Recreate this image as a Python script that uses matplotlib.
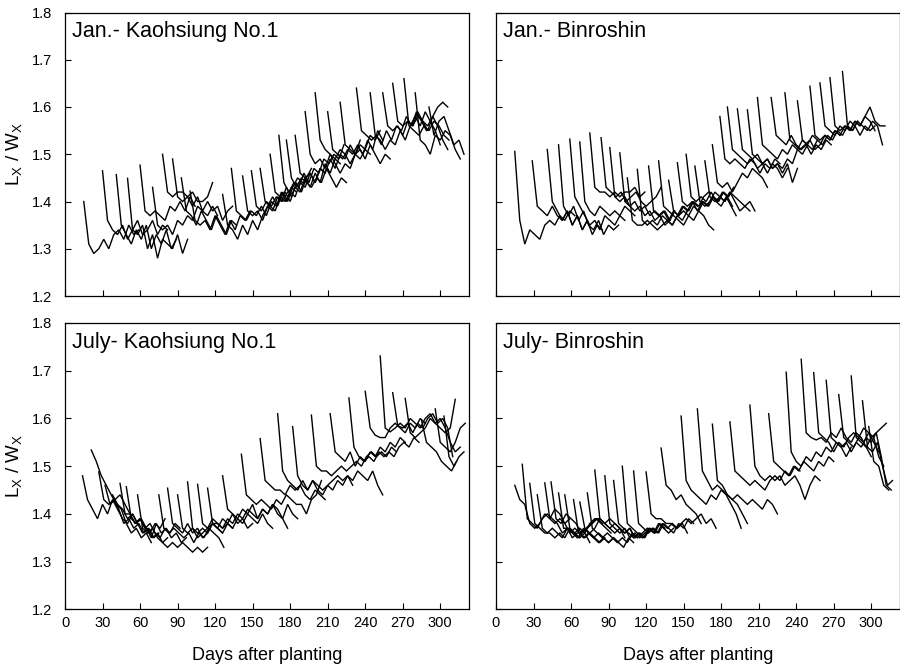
import matplotlib
matplotlib.use("Agg")
import matplotlib.pyplot as plt

plt.rcParams['font.family'] = ['Liberation Sans', 'DejaVu Sans']
plt.rcParams['mathtext.fontset'] = 'custom'
plt.rcParams['mathtext.rm'] = 'Liberation Sans'
plt.rcParams['mathtext.it'] = 'Liberation Sans'

# sampling interval (days) between successive readings of one leaf
STEP = 4

x_ticks = [0, 30, 60, 90, 120, 150, 180, 210, 240, 270, 300]
y_ticks = [1.2, 1.3, 1.4, 1.5, 1.6, 1.7, 1.8]

# ---------------- Jan. - Kaohsiung No.1 ----------------
jan_kao_start = [15, 30, 41, 50, 60, 70, 78, 86, 93, 100, 126, 133, 142, 149, 156,
                 164, 171, 177, 184, 192, 200, 210, 220, 233, 244, 254, 262, 271, 280, 291]
jan_kao_vals = [
    [1.40, 1.31, 1.29, 1.30, 1.32, 1.30, 1.33, 1.34, 1.32, 1.35, 1.33, 1.34],
    [1.465, 1.36, 1.34, 1.33, 1.35, 1.32, 1.34, 1.36, 1.33, 1.34, 1.36, 1.33, 1.35, 1.34],
    [1.457, 1.35, 1.33, 1.31, 1.34, 1.32, 1.35, 1.30, 1.33, 1.31, 1.34, 1.30, 1.32],
    [1.449, 1.34, 1.33, 1.35, 1.30, 1.33, 1.28, 1.32, 1.31, 1.30, 1.33, 1.29, 1.32],
    [1.477, 1.38, 1.37, 1.38, 1.37, 1.36, 1.39, 1.38, 1.40, 1.38, 1.41, 1.39],
    [1.43, 1.35, 1.34, 1.35, 1.33, 1.36, 1.35, 1.37, 1.36, 1.39, 1.38, 1.37, 1.39, 1.37],
    [1.50, 1.42, 1.41, 1.42, 1.42, 1.41, 1.42, 1.40, 1.40, 1.41, 1.44],
    [1.49, 1.41, 1.40, 1.41, 1.39, 1.41, 1.38, 1.40, 1.38, 1.39, 1.36, 1.38, 1.39],
    [1.45, 1.38, 1.37, 1.35, 1.38, 1.36, 1.34, 1.37, 1.35, 1.33, 1.36, 1.35],
    [1.422, 1.36, 1.35, 1.36, 1.34, 1.37, 1.35, 1.33, 1.36, 1.34, 1.37, 1.36, 1.38],
    [1.415, 1.35, 1.34, 1.32, 1.35, 1.33, 1.36, 1.34, 1.37, 1.39, 1.38, 1.41, 1.40, 1.42],
    [1.47, 1.38, 1.37, 1.36, 1.38, 1.37, 1.39, 1.37, 1.40, 1.39, 1.42, 1.40, 1.43, 1.42],
    [1.454, 1.38, 1.37, 1.38, 1.36, 1.39, 1.41, 1.39, 1.42, 1.40, 1.43, 1.45, 1.44],
    [1.465, 1.39, 1.38, 1.40, 1.39, 1.41, 1.40, 1.43, 1.41, 1.44, 1.42, 1.45, 1.47],
    [1.47, 1.40, 1.39, 1.38, 1.41, 1.40, 1.42, 1.41, 1.44, 1.43, 1.46, 1.44, 1.47, 1.46],
    [1.50, 1.42, 1.41, 1.42, 1.40, 1.43, 1.42, 1.45, 1.43, 1.46, 1.44, 1.48, 1.46, 1.49, 1.48],
    [1.54, 1.44, 1.42, 1.44, 1.43, 1.46, 1.44, 1.47, 1.46, 1.49, 1.48, 1.50, 1.49, 1.52],
    [1.53, 1.45, 1.43, 1.45, 1.44, 1.43, 1.45, 1.44, 1.47, 1.45, 1.43, 1.45, 1.44],
    [1.54, 1.46, 1.45, 1.46, 1.44, 1.47, 1.46, 1.49, 1.47, 1.50, 1.49, 1.52, 1.50, 1.53],
    [1.59, 1.50, 1.48, 1.49, 1.47, 1.50, 1.48, 1.46, 1.48, 1.47, 1.50, 1.49, 1.51, 1.50],
    [1.63, 1.53, 1.51, 1.50, 1.49, 1.51, 1.50, 1.48, 1.50, 1.52, 1.51, 1.54, 1.53, 1.55],
    [1.59, 1.51, 1.50, 1.49, 1.51, 1.50, 1.52, 1.50, 1.53, 1.51, 1.55, 1.53],
    [1.61, 1.52, 1.51, 1.50, 1.51, 1.49, 1.52, 1.50, 1.48, 1.50, 1.49],
    [1.64, 1.55, 1.54, 1.53, 1.54, 1.52, 1.55, 1.53, 1.56, 1.55, 1.58, 1.56, 1.59, 1.57, 1.55],
    [1.63, 1.54, 1.53, 1.51, 1.53, 1.52, 1.55, 1.53, 1.56, 1.58, 1.56, 1.59, 1.57, 1.55, 1.52],
    [1.63, 1.56, 1.55, 1.56, 1.54, 1.57, 1.56, 1.58, 1.57, 1.55, 1.58, 1.56, 1.53, 1.51],
    [1.65, 1.57, 1.56, 1.57, 1.56, 1.59, 1.57, 1.56, 1.58, 1.60, 1.61, 1.60],
    [1.66, 1.56, 1.55, 1.54, 1.56, 1.55, 1.57, 1.56, 1.54, 1.53],
    [1.63, 1.53, 1.52, 1.50, 1.54, 1.53, 1.55, 1.54, 1.51, 1.49],
    [1.60, 1.54, 1.57, 1.58, 1.55, 1.52, 1.53, 1.50],
]

# ---------------- Jan. - Binroshin ----------------
jan_bin_start = [15, 29, 41, 50, 59, 67, 75, 84, 91, 99, 105, 113, 122, 130, 138, 145,
                 152, 159, 167, 173, 179, 185, 193, 201, 209, 220, 231, 241, 251, 259, 267, 277]
jan_bin_vals = [
    [1.506, 1.36, 1.31, 1.34, 1.33, 1.32, 1.35, 1.36, 1.35, 1.37, 1.36, 1.38, 1.37],
    [1.486, 1.39, 1.38, 1.37, 1.39, 1.37, 1.36, 1.38, 1.35, 1.37, 1.34, 1.36],
    [1.51, 1.40, 1.38, 1.36, 1.38, 1.35, 1.37, 1.34, 1.36, 1.33, 1.35, 1.34],
    [1.52, 1.39, 1.37, 1.39, 1.36, 1.38, 1.35, 1.34, 1.36, 1.33, 1.35, 1.34, 1.35],
    [1.532, 1.41, 1.39, 1.37, 1.35, 1.36, 1.34, 1.37, 1.36, 1.35, 1.37, 1.36],
    [1.526, 1.40, 1.38, 1.37, 1.39, 1.38, 1.37, 1.38, 1.37, 1.39, 1.38, 1.37],
    [1.545, 1.43, 1.42, 1.42, 1.41, 1.42, 1.41, 1.42, 1.42, 1.43, 1.41, 1.42],
    [1.535, 1.43, 1.42, 1.41, 1.42, 1.40, 1.41, 1.42, 1.40, 1.39, 1.40, 1.41, 1.43],
    [1.514, 1.41, 1.40, 1.41, 1.39, 1.40, 1.38, 1.39, 1.37, 1.38, 1.37, 1.38, 1.36],
    [1.503, 1.40, 1.39, 1.38, 1.39, 1.37, 1.38, 1.36, 1.37, 1.35, 1.36, 1.38],
    [1.45, 1.36, 1.35, 1.35, 1.36, 1.35, 1.34, 1.35, 1.36, 1.35, 1.37, 1.36, 1.38],
    [1.468, 1.36, 1.35, 1.36, 1.35, 1.37, 1.36, 1.35, 1.37, 1.39, 1.38, 1.40, 1.39],
    [1.475, 1.38, 1.37, 1.38, 1.36, 1.38, 1.37, 1.39, 1.38, 1.40, 1.39, 1.41, 1.42],
    [1.486, 1.39, 1.38, 1.37, 1.36, 1.35, 1.37, 1.36, 1.38, 1.37, 1.35, 1.34],
    [1.445, 1.38, 1.37, 1.38, 1.37, 1.39, 1.38, 1.40, 1.39, 1.41, 1.40, 1.42, 1.41, 1.43],
    [1.482, 1.40, 1.39, 1.40, 1.38, 1.40, 1.39, 1.41, 1.40, 1.42, 1.41, 1.39],
    [1.50, 1.41, 1.40, 1.41, 1.40, 1.42, 1.40, 1.39, 1.41, 1.39, 1.37],
    [1.475, 1.40, 1.39, 1.40, 1.42, 1.41, 1.40, 1.42, 1.40, 1.38, 1.39, 1.38],
    [1.486, 1.41, 1.40, 1.41, 1.40, 1.42, 1.41, 1.40, 1.39, 1.40, 1.38],
    [1.52, 1.44, 1.43, 1.44, 1.42, 1.44, 1.46, 1.45, 1.47, 1.46, 1.45, 1.43],
    [1.58, 1.49, 1.48, 1.49, 1.48, 1.47, 1.49, 1.48, 1.46, 1.48, 1.47, 1.49, 1.48],
    [1.60, 1.51, 1.50, 1.49, 1.48, 1.49, 1.47, 1.48, 1.46, 1.48, 1.47, 1.45, 1.47],
    [1.596, 1.51, 1.50, 1.49, 1.50, 1.48, 1.49, 1.47, 1.48, 1.46, 1.48, 1.44, 1.47],
    [1.594, 1.50, 1.49, 1.48, 1.49, 1.47, 1.48, 1.47, 1.49, 1.48, 1.51, 1.50, 1.52],
    [1.62, 1.52, 1.51, 1.50, 1.49, 1.51, 1.50, 1.52, 1.51, 1.53, 1.52, 1.54, 1.53],
    [1.62, 1.54, 1.53, 1.52, 1.54, 1.52, 1.51, 1.52, 1.50, 1.52, 1.51, 1.53, 1.52],
    [1.63, 1.53, 1.52, 1.51, 1.52, 1.53, 1.51, 1.52, 1.54, 1.53, 1.55, 1.54],
    [1.613, 1.53, 1.52, 1.51, 1.53, 1.52, 1.54, 1.53, 1.55, 1.54, 1.56, 1.55, 1.57],
    [1.644, 1.54, 1.53, 1.54, 1.53, 1.55, 1.54, 1.56, 1.55, 1.57, 1.56, 1.58, 1.57, 1.55],
    [1.651, 1.56, 1.55, 1.54, 1.56, 1.55, 1.57, 1.56, 1.54, 1.56, 1.55, 1.56],
    [1.662, 1.56, 1.55, 1.56, 1.55, 1.57, 1.56, 1.58, 1.60, 1.57, 1.56, 1.56],
    [1.675, 1.56, 1.55, 1.57, 1.56, 1.55, 1.57, 1.56, 1.52],
]

# ---------------- July - Kaohsiung No.1 ----------------
jul_kao_start = [14, 21, 27, 32, 38, 44, 49, 58, 75, 82, 90, 98, 106, 114, 126, 141,
                 156, 170, 182, 197, 212, 227, 240, 252, 262, 272, 285, 296, 303]
jul_kao_vals = [
    [1.48, 1.43, 1.41, 1.39, 1.42, 1.40, 1.43, 1.41, 1.39, 1.38, 1.40, 1.38],
    [1.534, 1.51, 1.48, 1.46, 1.44, 1.42, 1.41, 1.38, 1.36, 1.37, 1.35, 1.36, 1.34],
    [1.488, 1.43, 1.42, 1.43, 1.41, 1.38, 1.39, 1.37, 1.38, 1.36, 1.37, 1.35, 1.36],
    [1.46, 1.42, 1.43, 1.44, 1.42, 1.40, 1.38, 1.39, 1.37, 1.36, 1.38, 1.37, 1.39],
    [1.44, 1.42, 1.41, 1.39, 1.40, 1.38, 1.36, 1.37, 1.35, 1.36, 1.34, 1.35],
    [1.464, 1.40, 1.40, 1.38, 1.39, 1.37, 1.38, 1.36, 1.35, 1.37, 1.36, 1.38, 1.37],
    [1.457, 1.39, 1.38, 1.39, 1.37, 1.35, 1.38, 1.36, 1.37, 1.35, 1.36, 1.34, 1.35],
    [1.44, 1.37, 1.36, 1.37, 1.35, 1.34, 1.33, 1.34, 1.33, 1.34, 1.33, 1.32, 1.33, 1.32, 1.33],
    [1.44, 1.37, 1.36, 1.37, 1.36, 1.35, 1.36, 1.34, 1.36, 1.35, 1.37, 1.36, 1.35, 1.33],
    [1.454, 1.38, 1.37, 1.36, 1.38, 1.36, 1.37, 1.35, 1.36, 1.38, 1.37, 1.36],
    [1.44, 1.37, 1.36, 1.37, 1.35, 1.36, 1.37, 1.39, 1.38, 1.37, 1.38, 1.37],
    [1.467, 1.37, 1.36, 1.37, 1.36, 1.38, 1.37, 1.39, 1.38, 1.40, 1.38, 1.39, 1.37, 1.38],
    [1.462, 1.38, 1.37, 1.38, 1.37, 1.36, 1.38, 1.37, 1.39, 1.38, 1.40, 1.39, 1.38, 1.40, 1.38, 1.37],
    [1.454, 1.38, 1.38, 1.37, 1.39, 1.38, 1.40, 1.39, 1.41, 1.40, 1.39, 1.41, 1.40, 1.42, 1.40, 1.39, 1.37],
    [1.48, 1.41, 1.40, 1.39, 1.41, 1.40, 1.42, 1.39, 1.41, 1.40, 1.42, 1.41, 1.39, 1.42, 1.40, 1.39],
    [1.525, 1.44, 1.43, 1.42, 1.43, 1.42, 1.41, 1.43, 1.42, 1.44, 1.43, 1.42, 1.42, 1.40, 1.43, 1.44, 1.47],
    [1.558, 1.47, 1.46, 1.45, 1.45, 1.44, 1.46, 1.45, 1.46, 1.44, 1.43, 1.45, 1.44, 1.43],
    [1.61, 1.49, 1.47, 1.46, 1.45, 1.47, 1.45, 1.47, 1.46, 1.45, 1.46, 1.47, 1.48, 1.47, 1.48, 1.46],
    [1.583, 1.48, 1.46, 1.45, 1.47, 1.45, 1.44, 1.46, 1.45, 1.47, 1.46, 1.48, 1.47, 1.49, 1.48, 1.47, 1.49, 1.46, 1.44],
    [1.607, 1.50, 1.49, 1.49, 1.48, 1.49, 1.50, 1.49, 1.50, 1.51, 1.50, 1.52, 1.53, 1.52, 1.53, 1.52, 1.54, 1.53],
    [1.61, 1.53, 1.52, 1.51, 1.53, 1.50, 1.52, 1.51, 1.53, 1.52, 1.54, 1.53, 1.55, 1.54, 1.56, 1.55],
    [1.643, 1.54, 1.52, 1.51, 1.52, 1.51, 1.53, 1.52, 1.53, 1.52, 1.54, 1.55, 1.54, 1.56, 1.55],
    [1.657, 1.58, 1.565, 1.56, 1.56, 1.58, 1.59, 1.58, 1.57, 1.59, 1.58, 1.60, 1.59],
    [1.731, 1.58, 1.572, 1.58, 1.59, 1.58, 1.60, 1.59, 1.58, 1.60, 1.61, 1.59, 1.58, 1.57, 1.58, 1.64],
    [1.654, 1.585, 1.58, 1.59, 1.57, 1.59, 1.58, 1.60, 1.61, 1.59, 1.60, 1.58, 1.52],
    [1.642, 1.57, 1.56, 1.57, 1.58, 1.60, 1.59, 1.60, 1.58, 1.55, 1.53, 1.54],
    [1.597, 1.55, 1.54, 1.53, 1.51, 1.50, 1.49, 1.51],
    [1.62, 1.55, 1.54, 1.53, 1.55, 1.58, 1.59],
    [1.605, 1.52, 1.50, 1.52, 1.53],
]

# ---------------- July - Binroshin ----------------
jul_bin_start = [15, 21, 27, 33, 39, 44, 50, 55, 62, 67, 73, 79, 87, 94, 101, 110,
                 120, 132, 148, 161, 173, 187, 203, 218, 232, 244, 254, 264, 274, 284, 293, 298]
jul_bin_vals = [
    [1.46, 1.43, 1.42, 1.38, 1.37, 1.38, 1.40, 1.39, 1.41, 1.40, 1.38, 1.39],
    [1.504, 1.39, 1.38, 1.37, 1.39, 1.40, 1.39, 1.38, 1.36, 1.37, 1.35, 1.36],
    [1.464, 1.38, 1.37, 1.36, 1.36, 1.35, 1.36, 1.35, 1.37, 1.36, 1.35, 1.36, 1.34],
    [1.44, 1.37, 1.36, 1.37, 1.36, 1.35, 1.37, 1.36, 1.35, 1.36, 1.37, 1.38, 1.39, 1.38],
    [1.465, 1.39, 1.38, 1.39, 1.38, 1.36, 1.37, 1.36, 1.35, 1.36, 1.35, 1.34, 1.35],
    [1.467, 1.39, 1.38, 1.40, 1.39, 1.38, 1.36, 1.37, 1.38, 1.39, 1.38, 1.37, 1.36],
    [1.444, 1.37, 1.37, 1.36, 1.35, 1.37, 1.36, 1.35, 1.36, 1.35, 1.34, 1.35, 1.34],
    [1.44, 1.37, 1.36, 1.37, 1.36, 1.38, 1.39, 1.39, 1.38, 1.37, 1.36, 1.37, 1.35],
    [1.43, 1.36, 1.35, 1.36, 1.35, 1.34, 1.35, 1.34, 1.35, 1.34, 1.33, 1.35, 1.34],
    [1.425, 1.37, 1.36, 1.37, 1.39, 1.38, 1.39, 1.38, 1.37, 1.36, 1.37, 1.35],
    [1.444, 1.37, 1.36, 1.35, 1.36, 1.35, 1.34, 1.35, 1.34, 1.36, 1.35, 1.36, 1.37],
    [1.492, 1.39, 1.38, 1.37, 1.38, 1.37, 1.36, 1.37, 1.35, 1.36, 1.35, 1.37, 1.36],
    [1.48, 1.38, 1.37, 1.36, 1.37, 1.35, 1.36, 1.35, 1.36, 1.37, 1.36, 1.38, 1.37],
    [1.47, 1.38, 1.37, 1.36, 1.35, 1.36, 1.35, 1.37, 1.36, 1.38, 1.37, 1.36, 1.37],
    [1.50, 1.38, 1.37, 1.36, 1.35, 1.36, 1.37, 1.36, 1.38, 1.37, 1.38, 1.37, 1.38, 1.36],
    [1.49, 1.38, 1.37, 1.36, 1.37, 1.36, 1.38, 1.37, 1.36, 1.38, 1.37, 1.39, 1.38],
    [1.488, 1.40, 1.39, 1.39, 1.38, 1.38, 1.37, 1.38, 1.39, 1.38, 1.39, 1.40, 1.38, 1.39, 1.37],
    [1.538, 1.46, 1.45, 1.43, 1.44, 1.42, 1.41, 1.40, 1.38],
    [1.605, 1.47, 1.45, 1.44, 1.43, 1.42, 1.44, 1.43, 1.45, 1.44, 1.42, 1.40, 1.37],
    [1.62, 1.49, 1.47, 1.45, 1.46, 1.45, 1.44, 1.43, 1.42, 1.40, 1.38],
    [1.588, 1.47, 1.46, 1.44, 1.43, 1.44, 1.43, 1.42, 1.43, 1.42, 1.41, 1.43, 1.42, 1.40],
    [1.593, 1.49, 1.48, 1.47, 1.46, 1.47, 1.46, 1.45, 1.47, 1.48, 1.47, 1.49, 1.48, 1.50, 1.49],
    [1.628, 1.50, 1.48, 1.47, 1.48, 1.47, 1.48, 1.46, 1.47, 1.48, 1.46, 1.43, 1.46, 1.48, 1.47],
    [1.61, 1.51, 1.50, 1.49, 1.48, 1.50, 1.49, 1.51, 1.50, 1.49, 1.51, 1.50, 1.52, 1.51],
    [1.697, 1.53, 1.51, 1.50, 1.52, 1.51, 1.53, 1.52, 1.54, 1.53, 1.55, 1.54, 1.52, 1.54],
    [1.724, 1.57, 1.56, 1.555, 1.56, 1.55, 1.57, 1.56, 1.58, 1.56, 1.55, 1.57, 1.56, 1.54, 1.52],
    [1.696, 1.57, 1.56, 1.55, 1.53, 1.55, 1.54, 1.56, 1.57, 1.56, 1.58, 1.57, 1.55, 1.53],
    [1.68, 1.56, 1.55, 1.54, 1.55, 1.53, 1.55, 1.54, 1.56, 1.55, 1.57, 1.58, 1.59],
    [1.65, 1.56, 1.55, 1.54, 1.56, 1.55, 1.57, 1.56, 1.52, 1.50],
    [1.689, 1.56, 1.55, 1.54, 1.56, 1.57, 1.52, 1.46, 1.45],
    [1.637, 1.54, 1.53, 1.55, 1.50, 1.46, 1.47],
    [1.583, 1.51, 1.50, 1.46, 1.45],
]

titles = ["Jan.- Kaohsiung No.1", "Jan.- Binroshin", "July- Kaohsiung No.1", "July- Binroshin"]
ylabel = r"L$_{\mathregular{X}}$ / W$_{\mathregular{X}}$"
xlabel = "Days after planting"

panels = [
    (titles[0], jan_kao_start, jan_kao_vals, [65/900, 1-296/666, 404/900, 283.5/666], True, False),
    (titles[1], jan_bin_start, jan_bin_vals, [496/900, 1-296/666, 404/900, 283.5/666], False, False),
    (titles[2], jul_kao_start, jul_kao_vals, [65/900, 1-609.4/666, 404/900, 286.4/666], True, True),
    (titles[3], jul_bin_start, jul_bin_vals, [496/900, 1-609.4/666, 404/900, 286.4/666], False, True),
]

fig = plt.figure(figsize=(9, 6.66), dpi=100)
for title, starts, leaves, rect, left, bottom in panels:
    ax = fig.add_axes(rect)
    for s, v in zip(starts, leaves):
        days = [s + STEP * i for i in range(len(v))]
        ax.plot(days, v, color='black', lw=1.0, solid_joinstyle='miter')
    ax.set_xlim(0, 323)
    ax.set_ylim(1.2, 1.8)
    ax.set_xticks(x_ticks)
    ax.set_yticks(y_ticks)
    ax.tick_params(axis='x', direction='in', length=4, width=0.8, labelsize=10.5, pad=5,
                   labelbottom=bottom)
    ax.tick_params(axis='y', direction='in', length=4, width=0.8, labelsize=10.5, pad=9,
                   labelleft=left)
    for sp in ax.spines.values():
        sp.set_linewidth(0.9)
    ax.text(0.018, 0.912, title, transform=ax.transAxes, fontsize=15.5,
            ha='left', va='baseline')
    if left:
        ax.set_ylabel(ylabel, fontsize=13.5, labelpad=6)
    if bottom:
        ax.set_xlabel(xlabel, fontsize=13, labelpad=12)

fig.savefig("out.png", dpi=100)
